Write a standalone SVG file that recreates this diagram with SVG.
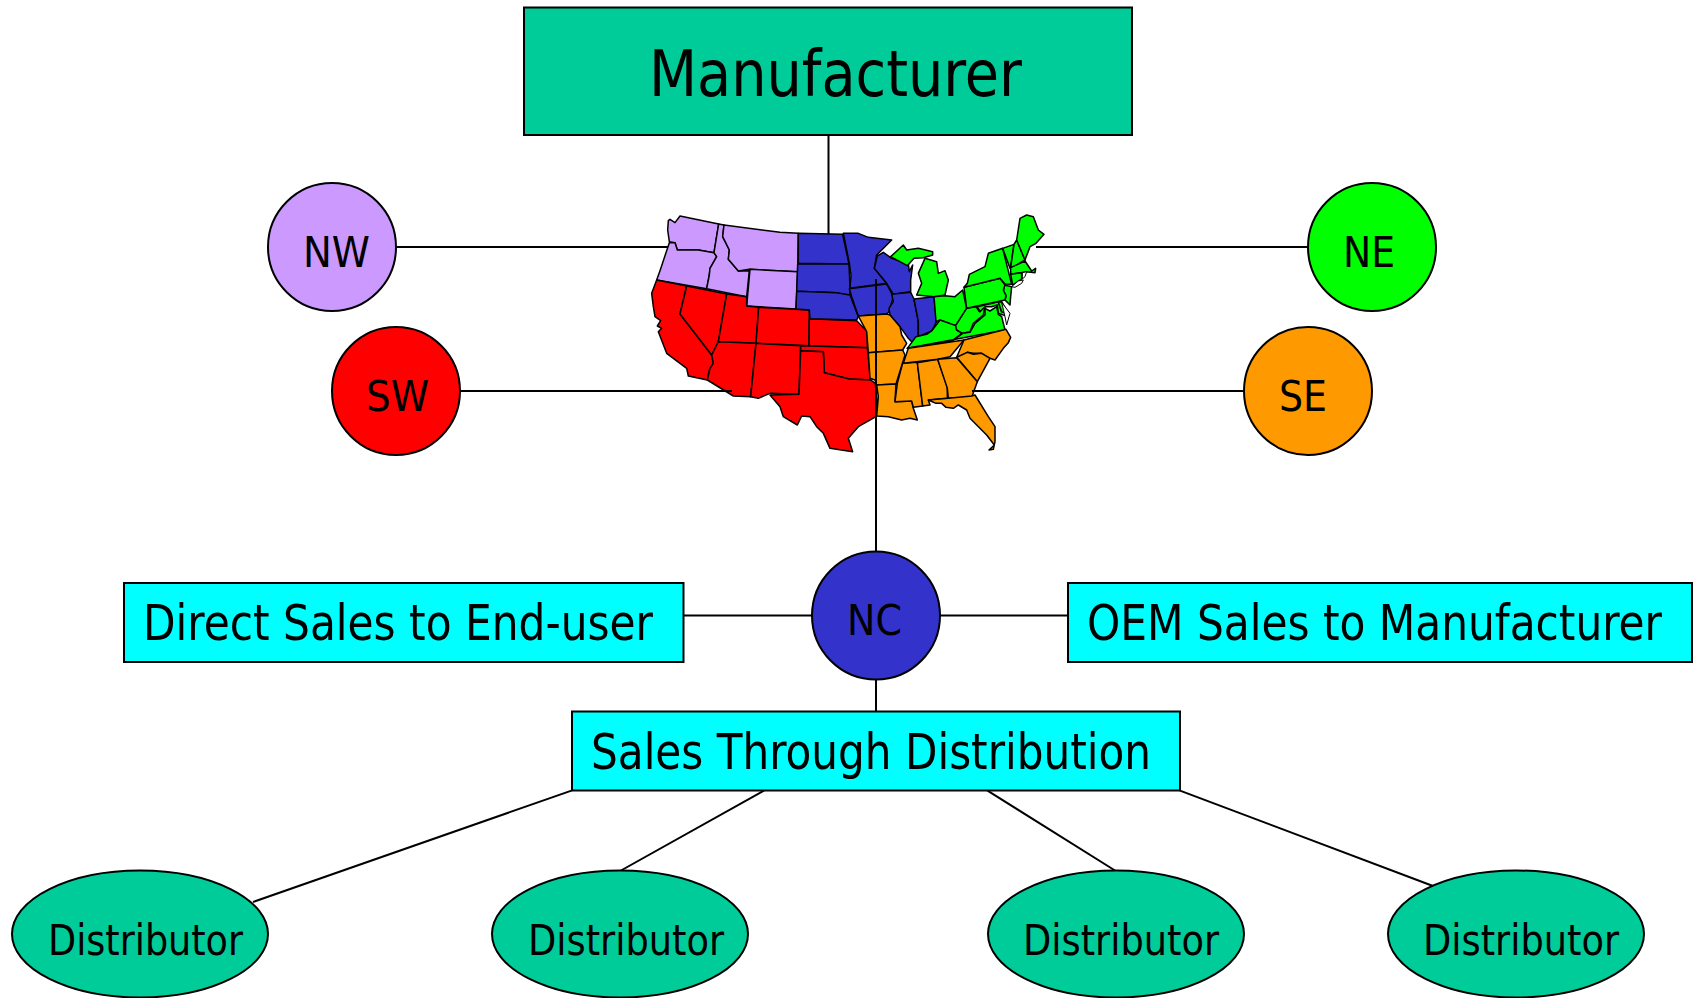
<svg xmlns="http://www.w3.org/2000/svg" width="1696" height="998" viewBox="0 0 1696 998">
<style>
.s{stroke:#000;stroke-width:2}
.c{fill:none;stroke:#000;stroke-width:2}
.m polygon{stroke:#000;stroke-width:4.500;stroke-linejoin:round}
.p polygon{fill:#CC99FF}.r polygon{fill:#FF0000}.b polygon{fill:#3333CC}.g polygon{fill:#00FF00}.o polygon{fill:#FF9900}
.g polygon.w{fill:#fff;stroke-width:3}
text{font-family:"DejaVu Sans Condensed","DejaVu Sans","Liberation Sans",sans-serif;fill:#000}
.t{font-size:64px}.l{font-size:50px}.n{font-size:43px}
</style>
<rect width="1696" height="998" fill="#fff"/>
<g id="map" class="m" transform="translate(630,200) scale(.33333)">
<g id="region-nw" class="p">
<polygon points="115,62 120,58 135,68 150,48 266,72 252,158 205,150 142,150 135,128 118,125 113,90"/>
<polygon points="118,128 135,128 142,150 205,150 252,158 260,170 240,205 238,225 230,266 80,240 90,212"/>
<polygon points="266,72 282,75 278,110 298,150 295,178 325,213 358,212 350,290 230,266 238,225 240,205 260,170 252,158"/>
<polygon points="282,75 450,97 505,100 503,215 358,208 325,213 295,178 298,150 278,110"/>
<polygon points="360,208 503,215 498,327 350,318"/>
</g>
<g id="region-sw" class="r">
<polygon points="80,240 170,258 150,342 245,465 250,490 238,510 232,540 175,528 170,505 110,460 85,395 95,385 82,378 92,362 75,350 70,320 65,280"/>
<polygon points="170,258 290,282 265,425 245,465 150,342"/>
<polygon points="290,282 350,290 350,318 386,322 378,430 265,425"/>
<polygon points="386,322 538,330 537,437 378,430"/>
<polygon points="265,425 378,430 362,590 310,588 232,540 240,505 250,490 245,465"/>
<polygon points="378,430 512,437 507,583 420,580 385,595 362,590"/>
<polygon points="538,356 680,362 712,395 712,443 537,437"/>
<polygon points="512,437 712,443 722,540 658,537 583,518 580,455 512,452"/>
<polygon points="512,452 580,455 583,518 658,537 722,540 736,550 740,590 745,625 738,650 685,680 655,715 668,755 600,745 580,700 560,680 540,650 515,648 502,675 460,650 450,620 420,585 507,583"/>
</g>
<g transform="translate(480,0)">
<g id="region-nc" class="b">
<polygon points="25,100 158,103 177,192 25,190"/>
<polygon points="23,192 177,192 180,265 180,285 160,285 140,278 20,274"/>
<polygon points="20,274 140,278 180,285 205,350 200,360 60,356 58,330 18,327"/>
<polygon points="160,100 205,100 235,112 305,120 260,165 253,205 290,250 180,265 183,225 178,190"/>
<polygon points="262,168 280,157 305,175 355,192 358,215 368,195 362,240 362,275 310,283 290,250 253,205"/>
<polygon points="178,266 290,252 310,290 297,335 290,342 205,348 185,290"/>
</g>
</g>
<g transform="translate(780,15)">
<g class="b">
<polygon points="5,268 62,262 72,282 85,350 85,395 72,418 55,400 30,365 0,330 -3,310 10,290"/>
<polygon points="72,282 132,275 140,350 125,378 85,395 85,350"/>
</g>
<g id="region-ne" class="g">
<polygon points="2,155 40,120 50,135 85,130 128,140 128,150 100,158 72,160 52,182"/>
<polygon points="80,270 95,235 85,205 105,160 140,170 145,205 165,197 175,225 165,270 132,275"/>
<polygon points="132,275 165,272 195,275 218,255 230,310 197,362 150,345 138,350"/>
<polygon points="52,430 78,395 110,388 125,378 150,345 197,362 200,375 215,385 188,407"/>
<polygon points="230,310 258,305 268,320 285,305 280,330 250,355 240,380 218,385 200,375 197,362"/>
<polygon points="52,430 345,375 335,335 325,328 320,305 300,318 285,310 285,330 255,355 240,382 218,385 188,407"/>
<polygon points="262,305 325,290 335,320 352,325 345,332 325,325 322,300 305,305 285,305 270,320"/>
<polygon points="325,292 335,290 352,320 335,320"/>
<polygon class="w" points="335,292 360,325 350,360 345,335"/>
<polygon points="343,240 365,245 362,275 360,300 345,285 348,272 340,260"/>
<polygon points="222,247 330,220 345,240 340,255 348,272 345,285 230,310"/>
<polygon points="232,235 238,208 285,185 295,145 338,130 365,238 345,237 330,220 222,247"/>
<polygon points="338,130 372,118 362,185 360,190"/>
<polygon points="372,118 380,105 405,165 372,185 362,188"/>
<polygon points="380,105 390,40 410,30 430,35 445,75 462,88 438,115 420,125 405,165"/>
<polygon points="362,188 405,168 425,198 437,190 435,203 410,200 362,208"/>
<polygon points="362,208 395,203 395,222 368,240"/>
<polygon class="w" points="397,203 410,200 405,215 397,222"/>
<polygon class="w" points="365,245 385,228 400,225 395,235 375,247"/>
</g>
</g>
<g transform="translate(690,360)">
<g id="region-se" class="o">
<polygon points="-5,-12 80,-18 90,-15 120,20 125,45 140,70 128,90 25,98 20,35"/>
<polygon points="25,98 128,90 135,105 108,192 50,195 45,180 30,175"/>
<polygon points="50,195 108,192 105,245 155,243 160,265 172,300 150,295 125,300 85,290 50,288 55,230"/>
<polygon points="128,130 172,127 188,258 160,262 155,243 105,245 112,190"/>
<polygon points="172,128 233,118 262,200 262,235 205,240 210,255 188,258"/>
<polygon points="130,130 145,85 312,60 270,110 233,118"/>
<polygon points="312,60 438,28 452,52 445,68 430,85 405,120 390,115 365,100 340,100 322,97 290,112"/>
<polygon points="290,112 322,97 340,103 365,100 390,115 352,185"/>
<polygon points="233,118 290,113 352,185 335,232 265,235 262,205"/>
<polygon points="205,240 265,235 335,228 345,225 385,290 405,320 405,365 400,388 387,390 403,375 380,345 330,295 320,270 295,255 280,265 258,262 245,250 228,250"/>
</g>
</g>
</g>
<g id="connectors" class="c">
<path d="M828.500 135V234"/>
<path d="M396 247H668"/>
<path d="M1036 247H1307.500"/>
<path d="M460 391H732"/>
<path d="M972 391H1243.500"/>
<path d="M876 279V551"/>
<path d="M876 679V711.500"/>
<path d="M683.500 615.500H812"/>
<path d="M940 615.500H1067.500"/>
<path d="M571.500 790.600L253 902"/>
<path d="M764 790.600L621 870.500"/>
<path d="M987.500 790.600L1115 870.500"/>
<path d="M1180 790.600L1433 886"/>
</g>
<g id="manufacturer"><rect class="s" x="524" y="7.500" width="608" height="127.500" fill="#00CC99"/><text class="t" x="649" y="96" textLength="373" lengthAdjust="spacingAndGlyphs">Manufacturer</text></g>
<g id="nw"><circle class="s" cx="332" cy="247" r="64" fill="#CC99FF"/><text class="n" x="303" y="267" textLength="67" lengthAdjust="spacingAndGlyphs">NW</text></g>
<g id="ne"><circle class="s" cx="1372" cy="247" r="64" fill="#00FF00"/><text class="n" x="1343" y="267" textLength="52" lengthAdjust="spacingAndGlyphs">NE</text></g>
<g id="sw"><circle class="s" cx="396" cy="391" r="64" fill="#FF0000"/><text class="n" x="366" y="411" textLength="63" lengthAdjust="spacingAndGlyphs">SW</text></g>
<g id="se"><circle class="s" cx="1308" cy="391" r="64" fill="#FF9900"/><text class="n" x="1279" y="411" textLength="48" lengthAdjust="spacingAndGlyphs">SE</text></g>
<g id="nc"><circle class="s" cx="876" cy="615.500" r="64" fill="#3333CC"/><text class="n" x="847" y="635" textLength="55" lengthAdjust="spacingAndGlyphs">NC</text></g>
<g id="direct"><rect class="s" x="124" y="583" width="559.500" height="79" fill="#00FFFF"/><text class="l" x="143" y="640" textLength="510" lengthAdjust="spacingAndGlyphs">Direct Sales to End-user</text></g>
<g id="oem"><rect class="s" x="1068" y="583" width="624" height="79" fill="#00FFFF"/><text class="l" x="1087" y="640" textLength="575" lengthAdjust="spacingAndGlyphs">OEM Sales to Manufacturer</text></g>
<g id="distribution"><rect class="s" x="572" y="711.500" width="608" height="79" fill="#00FFFF"/><text class="l" x="591" y="769" textLength="560" lengthAdjust="spacingAndGlyphs">Sales Through Distribution</text></g>
<g id="d1"><ellipse class="s" cx="140" cy="934" rx="128" ry="63.500" fill="#00CC99"/><text class="n" x="48" y="955" textLength="195" lengthAdjust="spacingAndGlyphs">Distributor</text></g>
<g id="d2"><ellipse class="s" cx="620" cy="934" rx="128" ry="63.500" fill="#00CC99"/><text class="n" x="528" y="955" textLength="196" lengthAdjust="spacingAndGlyphs">Distributor</text></g>
<g id="d3"><ellipse class="s" cx="1116" cy="934" rx="128" ry="63.500" fill="#00CC99"/><text class="n" x="1023" y="955" textLength="196" lengthAdjust="spacingAndGlyphs">Distributor</text></g>
<g id="d4"><ellipse class="s" cx="1516" cy="934" rx="128" ry="63.500" fill="#00CC99"/><text class="n" x="1423" y="955" textLength="196" lengthAdjust="spacingAndGlyphs">Distributor</text></g>
</svg>
